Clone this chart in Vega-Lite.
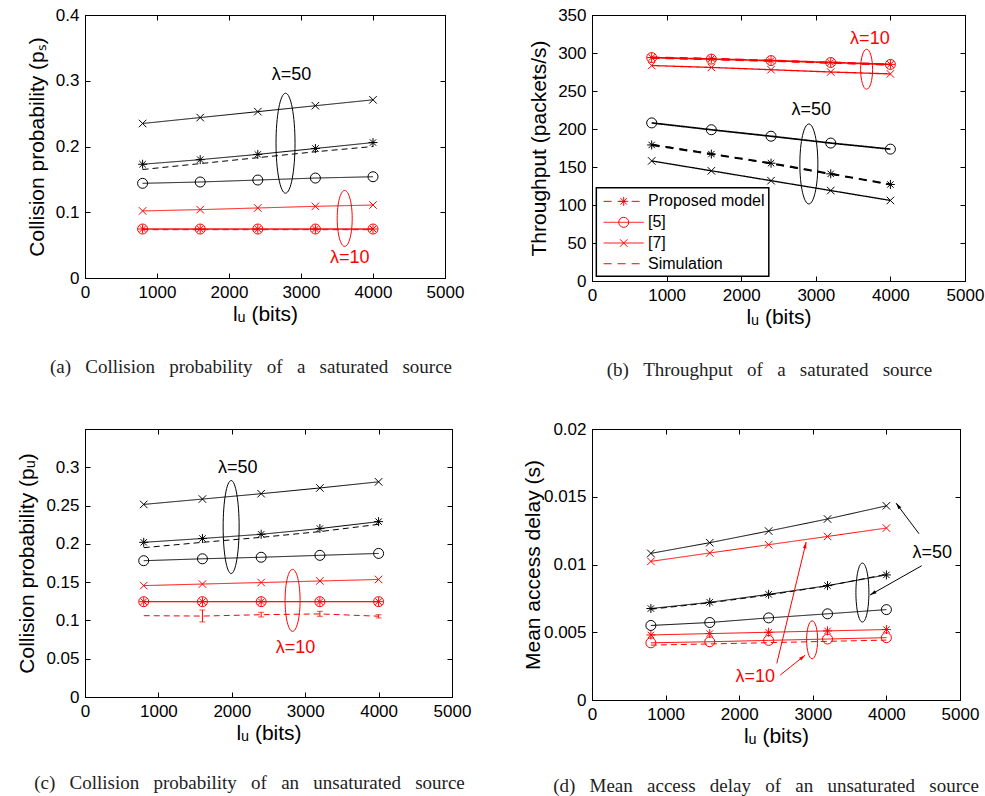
{
  "$schema": "https://vega.github.io/schema/vega-lite/v6.json",
  "padding": {"left": 16, "top": 5, "right": 5, "bottom": 5},
  "columns": 2,
  "bounds": "flush",
  "spacing": {"column": 140, "row": 148},
  "resolve": {"scale": {"strokeDash": "independent", "strokeWidth": "independent"}},
  "config": {
    "font": "Liberation Sans",
    "view": {"stroke": "#000", "strokeWidth": 1},
    "axis": {"grid": false, "domainColor": "#000", "tickColor": "#000", "labelColor": "#000", "titleColor": "#000", "labelFont": "Liberation Sans", "titleFont": "Liberation Sans", "labelFontSize": 17, "titleFontSize": 21, "titleFontWeight": "normal", "labelFlush": false, "labelOverlap": false, "tickSize": -5, "labelPadding": 11, "titlePadding": 3},
    "title": {"font": "Liberation Serif", "fontSize": 19, "fontWeight": "normal", "color": "#222"}
  },
  "datasets": {
    "a": [
      {"x": 800, "y": 0.235, "series": "[7]", "lam": "50"}, {"x": 1600, "y": 0.244, "series": "[7]", "lam": "50"}, {"x": 2400, "y": 0.253, "series": "[7]", "lam": "50"}, {"x": 3200, "y": 0.262, "series": "[7]", "lam": "50"}, {"x": 4000, "y": 0.271, "series": "[7]", "lam": "50"},
      {"x": 800, "y": 0.173, "series": "Proposed model", "lam": "50"}, {"x": 1600, "y": 0.18, "series": "Proposed model", "lam": "50"}, {"x": 2400, "y": 0.188, "series": "Proposed model", "lam": "50"}, {"x": 3200, "y": 0.197, "series": "Proposed model", "lam": "50"}, {"x": 4000, "y": 0.206, "series": "Proposed model", "lam": "50"},
      {"x": 800, "y": 0.165, "series": "Simulation", "lam": "50"}, {"x": 1600, "y": 0.174, "series": "Simulation", "lam": "50"}, {"x": 2400, "y": 0.183, "series": "Simulation", "lam": "50"}, {"x": 3200, "y": 0.192, "series": "Simulation", "lam": "50"}, {"x": 4000, "y": 0.2, "series": "Simulation", "lam": "50"},
      {"x": 800, "y": 0.144, "series": "[5]", "lam": "50"}, {"x": 1600, "y": 0.146, "series": "[5]", "lam": "50"}, {"x": 2400, "y": 0.149, "series": "[5]", "lam": "50"}, {"x": 3200, "y": 0.152, "series": "[5]", "lam": "50"}, {"x": 4000, "y": 0.154, "series": "[5]", "lam": "50"},
      {"x": 800, "y": 0.102, "series": "[7]", "lam": "10"}, {"x": 1600, "y": 0.104, "series": "[7]", "lam": "10"}, {"x": 2400, "y": 0.1065, "series": "[7]", "lam": "10"}, {"x": 3200, "y": 0.109, "series": "[7]", "lam": "10"}, {"x": 4000, "y": 0.111, "series": "[7]", "lam": "10"},
      {"x": 800, "y": 0.0745, "series": "Proposed model", "lam": "10"}, {"x": 1600, "y": 0.0745, "series": "Proposed model", "lam": "10"}, {"x": 2400, "y": 0.0745, "series": "Proposed model", "lam": "10"}, {"x": 3200, "y": 0.0745, "series": "Proposed model", "lam": "10"}, {"x": 4000, "y": 0.0745, "series": "Proposed model", "lam": "10"},
      {"x": 800, "y": 0.0745, "series": "[5]", "lam": "10"}, {"x": 1600, "y": 0.0745, "series": "[5]", "lam": "10"}, {"x": 2400, "y": 0.0745, "series": "[5]", "lam": "10"}, {"x": 3200, "y": 0.0745, "series": "[5]", "lam": "10"}, {"x": 4000, "y": 0.0745, "series": "[5]", "lam": "10"},
      {"x": 800, "y": 0.0735, "series": "Simulation", "lam": "10"}, {"x": 1600, "y": 0.0735, "series": "Simulation", "lam": "10"}, {"x": 2400, "y": 0.0735, "series": "Simulation", "lam": "10"}, {"x": 3200, "y": 0.0735, "series": "Simulation", "lam": "10"}, {"x": 4000, "y": 0.0735, "series": "Simulation", "lam": "10"}
    ],
    "b": [
      {"x": 800, "y": 294, "series": "Proposed model", "lam": "10"}, {"x": 1600, "y": 292.5, "series": "Proposed model", "lam": "10"}, {"x": 2400, "y": 290, "series": "Proposed model", "lam": "10"}, {"x": 3200, "y": 287.5, "series": "Proposed model", "lam": "10"}, {"x": 4000, "y": 285, "series": "Proposed model", "lam": "10"},
      {"x": 800, "y": 294, "series": "[5]", "lam": "10"}, {"x": 1600, "y": 292, "series": "[5]", "lam": "10"}, {"x": 2400, "y": 290, "series": "[5]", "lam": "10"}, {"x": 3200, "y": 287.5, "series": "[5]", "lam": "10"}, {"x": 4000, "y": 285, "series": "[5]", "lam": "10"},
      {"x": 800, "y": 293, "series": "Simulation", "lam": "10"}, {"x": 1600, "y": 291, "series": "Simulation", "lam": "10"}, {"x": 2400, "y": 289, "series": "Simulation", "lam": "10"}, {"x": 3200, "y": 286.5, "series": "Simulation", "lam": "10"}, {"x": 4000, "y": 284, "series": "Simulation", "lam": "10"},
      {"x": 800, "y": 283.5, "series": "[7]", "lam": "10"}, {"x": 1600, "y": 281, "series": "[7]", "lam": "10"}, {"x": 2400, "y": 278, "series": "[7]", "lam": "10"}, {"x": 3200, "y": 275, "series": "[7]", "lam": "10"}, {"x": 4000, "y": 272.5, "series": "[7]", "lam": "10"},
      {"x": 800, "y": 208, "series": "[5]", "lam": "50"}, {"x": 1600, "y": 199, "series": "[5]", "lam": "50"}, {"x": 2400, "y": 190.5, "series": "[5]", "lam": "50"}, {"x": 3200, "y": 181.5, "series": "[5]", "lam": "50"}, {"x": 4000, "y": 173.5, "series": "[5]", "lam": "50"},
      {"x": 800, "y": 179, "series": "Proposed model", "lam": "50"}, {"x": 1600, "y": 167, "series": "Proposed model", "lam": "50"}, {"x": 2400, "y": 155, "series": "Proposed model", "lam": "50"}, {"x": 3200, "y": 141, "series": "Proposed model", "lam": "50"}, {"x": 4000, "y": 127, "series": "Proposed model", "lam": "50"},
      {"x": 800, "y": 180, "series": "Simulation", "lam": "50"}, {"x": 1600, "y": 167.5, "series": "Simulation", "lam": "50"}, {"x": 2400, "y": 154, "series": "Simulation", "lam": "50"}, {"x": 3200, "y": 140.5, "series": "Simulation", "lam": "50"}, {"x": 4000, "y": 127.5, "series": "Simulation", "lam": "50"},
      {"x": 800, "y": 158, "series": "[7]", "lam": "50"}, {"x": 1600, "y": 145, "series": "[7]", "lam": "50"}, {"x": 2400, "y": 132, "series": "[7]", "lam": "50"}, {"x": 3200, "y": 119, "series": "[7]", "lam": "50"}, {"x": 4000, "y": 106, "series": "[7]", "lam": "50"}
    ],
    "c": [
      {"x": 800, "y": 0.2515, "series": "[7]", "lam": "50"}, {"x": 1600, "y": 0.2585, "series": "[7]", "lam": "50"}, {"x": 2400, "y": 0.2655, "series": "[7]", "lam": "50"}, {"x": 3200, "y": 0.273, "series": "[7]", "lam": "50"}, {"x": 4000, "y": 0.281, "series": "[7]", "lam": "50"},
      {"x": 800, "y": 0.202, "series": "Proposed model", "lam": "50"}, {"x": 1600, "y": 0.207, "series": "Proposed model", "lam": "50"}, {"x": 2400, "y": 0.2125, "series": "Proposed model", "lam": "50"}, {"x": 3200, "y": 0.22, "series": "Proposed model", "lam": "50"}, {"x": 4000, "y": 0.229, "series": "Proposed model", "lam": "50"},
      {"x": 800, "y": 0.195, "series": "Simulation", "lam": "50"}, {"x": 1600, "y": 0.202, "series": "Simulation", "lam": "50"}, {"x": 2400, "y": 0.2085, "series": "Simulation", "lam": "50"}, {"x": 3200, "y": 0.216, "series": "Simulation", "lam": "50"}, {"x": 4000, "y": 0.2255, "series": "Simulation", "lam": "50"},
      {"x": 800, "y": 0.178, "series": "[5]", "lam": "50"}, {"x": 1600, "y": 0.1805, "series": "[5]", "lam": "50"}, {"x": 2400, "y": 0.1825, "series": "[5]", "lam": "50"}, {"x": 3200, "y": 0.185, "series": "[5]", "lam": "50"}, {"x": 4000, "y": 0.1875, "series": "[5]", "lam": "50"},
      {"x": 800, "y": 0.1455, "series": "[7]", "lam": "10"}, {"x": 1600, "y": 0.1475, "series": "[7]", "lam": "10"}, {"x": 2400, "y": 0.1495, "series": "[7]", "lam": "10"}, {"x": 3200, "y": 0.1515, "series": "[7]", "lam": "10"}, {"x": 4000, "y": 0.1535, "series": "[7]", "lam": "10"},
      {"x": 800, "y": 0.1245, "series": "Proposed model", "lam": "10"}, {"x": 1600, "y": 0.1245, "series": "Proposed model", "lam": "10"}, {"x": 2400, "y": 0.1245, "series": "Proposed model", "lam": "10"}, {"x": 3200, "y": 0.1245, "series": "Proposed model", "lam": "10"}, {"x": 4000, "y": 0.1245, "series": "Proposed model", "lam": "10"},
      {"x": 800, "y": 0.1245, "series": "[5]", "lam": "10"}, {"x": 1600, "y": 0.1245, "series": "[5]", "lam": "10"}, {"x": 2400, "y": 0.1245, "series": "[5]", "lam": "10"}, {"x": 3200, "y": 0.1245, "series": "[5]", "lam": "10"}, {"x": 4000, "y": 0.1245, "series": "[5]", "lam": "10"},
      {"x": 800, "y": 0.1062, "series": "Simulation", "lam": "10"}, {"x": 1600, "y": 0.1057, "lo": 0.098, "hi": 0.1136, "series": "Simulation", "lam": "10"}, {"x": 2400, "y": 0.1075, "lo": 0.1045, "hi": 0.1106, "series": "Simulation", "lam": "10"}, {"x": 3200, "y": 0.1085, "lo": 0.1054, "hi": 0.1119, "series": "Simulation", "lam": "10"}, {"x": 4000, "y": 0.1055, "lo": 0.1032, "hi": 0.1075, "series": "Simulation", "lam": "10"}
    ],
    "d": [
      {"x": 800, "y": 0.01082, "series": "[7]", "lam": "50"}, {"x": 1600, "y": 0.01161, "series": "[7]", "lam": "50"}, {"x": 2400, "y": 0.01247, "series": "[7]", "lam": "50"}, {"x": 3200, "y": 0.01336, "series": "[7]", "lam": "50"}, {"x": 4000, "y": 0.01433, "series": "[7]", "lam": "50"},
      {"x": 800, "y": 0.01023, "series": "[7]", "lam": "10"}, {"x": 1600, "y": 0.01085, "series": "[7]", "lam": "10"}, {"x": 2400, "y": 0.01146, "series": "[7]", "lam": "10"}, {"x": 3200, "y": 0.01207, "series": "[7]", "lam": "10"}, {"x": 4000, "y": 0.01269, "series": "[7]", "lam": "10"},
      {"x": 800, "y": 0.00675, "series": "Proposed model", "lam": "50"}, {"x": 1600, "y": 0.00721, "series": "Proposed model", "lam": "50"}, {"x": 2400, "y": 0.0078, "series": "Proposed model", "lam": "50"}, {"x": 3200, "y": 0.00844, "series": "Proposed model", "lam": "50"}, {"x": 4000, "y": 0.00923, "series": "Proposed model", "lam": "50"},
      {"x": 800, "y": 0.0067, "series": "Simulation", "lam": "50"}, {"x": 1600, "y": 0.00717, "series": "Simulation", "lam": "50"}, {"x": 2400, "y": 0.00775, "series": "Simulation", "lam": "50"}, {"x": 3200, "y": 0.00842, "series": "Simulation", "lam": "50"}, {"x": 4000, "y": 0.00928, "series": "Simulation", "lam": "50"},
      {"x": 800, "y": 0.0055, "series": "[5]", "lam": "50"}, {"x": 1600, "y": 0.00572, "series": "[5]", "lam": "50"}, {"x": 2400, "y": 0.00606, "series": "[5]", "lam": "50"}, {"x": 3200, "y": 0.00636, "series": "[5]", "lam": "50"}, {"x": 4000, "y": 0.00667, "series": "[5]", "lam": "50"},
      {"x": 800, "y": 0.0048, "series": "Proposed model", "lam": "10"}, {"x": 1600, "y": 0.0049, "series": "Proposed model", "lam": "10"}, {"x": 2400, "y": 0.005, "series": "Proposed model", "lam": "10"}, {"x": 3200, "y": 0.0051, "series": "Proposed model", "lam": "10"}, {"x": 4000, "y": 0.0052, "series": "Proposed model", "lam": "10"},
      {"x": 800, "y": 0.00422, "series": "[5]", "lam": "10"}, {"x": 1600, "y": 0.0043, "series": "[5]", "lam": "10"}, {"x": 2400, "y": 0.0044, "series": "[5]", "lam": "10"}, {"x": 3200, "y": 0.0045, "series": "[5]", "lam": "10"}, {"x": 4000, "y": 0.0046, "series": "[5]", "lam": "10"},
      {"x": 800, "y": 0.00405, "series": "Simulation", "lam": "10"}, {"x": 1600, "y": 0.00414, "series": "Simulation", "lam": "10"}, {"x": 2400, "y": 0.00423, "series": "Simulation", "lam": "10"}, {"x": 3200, "y": 0.00433, "series": "Simulation", "lam": "10"}, {"x": 4000, "y": 0.00442, "series": "Simulation", "lam": "10"}
    ],
    "ann": [
      {"p": "a", "id": "t50", "x": 2869, "y": 0.308, "label": "λ=50", "lam": "50"},
      {"p": "a", "id": "t10", "x": 3677, "y": 0.03, "label": "λ=10", "lam": "10"},
      {"p": "a", "id": "e50", "x": 2785, "y": 0.205, "lam": "50"},
      {"p": "a", "id": "e10", "x": 3607, "y": 0.0906, "lam": "10"},
      {"p": "b", "id": "t10", "x": 3725, "y": 318, "label": "λ=10", "lam": "10"},
      {"p": "b", "id": "t50", "x": 2938, "y": 224.7, "label": "λ=50", "lam": "50"},
      {"p": "b", "id": "e10", "x": 3681, "y": 278.6, "lam": "10"},
      {"p": "b", "id": "e50", "x": 2907, "y": 154, "lam": "50"},
      {"p": "c", "id": "t50", "x": 2081, "y": 0.2997, "label": "λ=50", "lam": "50"},
      {"p": "c", "id": "t10", "x": 2869, "y": 0.0646, "label": "λ=10", "lam": "10"},
      {"p": "c", "id": "e50", "x": 1991, "y": 0.222, "lam": "50"},
      {"p": "c", "id": "e10", "x": 2828, "y": 0.1262, "lam": "10"},
      {"p": "d", "id": "t50", "x": 4624, "y": 0.01085, "label": "λ=50", "lam": "50"},
      {"p": "d", "id": "t10", "x": 2217, "y": 0.00172, "label": "λ=10", "lam": "10"},
      {"p": "d", "id": "e50", "x": 3674, "y": 0.00793, "lam": "50"},
      {"p": "d", "id": "e10", "x": 2991, "y": 0.00444, "lam": "10"},
      {"p": "d", "id": "a1", "x": 4443, "y": 0.01227, "x2": 4131, "y2": 0.01453, "lam": "50"},
      {"p": "d", "id": "a2", "x": 4480, "y": 0.00991, "x2": 3778, "y2": 0.00775, "lam": "50"},
      {"p": "d", "id": "a3", "x": 2511, "y": 0.0027, "x2": 2910, "y2": 0.01166, "lam": "10"},
      {"p": "d", "id": "a4", "x": 2557, "y": 0.00184, "x2": 2896, "y2": 0.00331, "lam": "10"}
    ],
    "legb": [
      {"series": "Proposed model", "y": 104.8},
      {"series": "[5]", "y": 77.2},
      {"series": "[7]", "y": 50},
      {"series": "Simulation", "y": 22.7}
    ]
  },
  "concat": [
    {
      "width": 360, "height": 263,
      "title": {"text": "(a) \u2002Collision \u2002probability \u2002of \u2002a \u2002saturated \u2002source", "orient": "bottom", "anchor": "middle", "offset": 34, "dx": -14},
      "resolve": {"axis": {"x": "independent", "y": "independent"}},
      "layer": [
        {"data": {"name": "a"}, "mark": {"type": "line", "strokeWidth": 1},
         "encoding": {
           "x": {"field": "x", "type": "quantitative", "scale": {"domain": [0, 5000]}, "axis": {"values": [0, 1000, 2000, 3000, 4000, 5000], "format": "d", "title": "lᵤ  (bits)"}},
           "y": {"field": "y", "type": "quantitative", "scale": {"domain": [0, 0.4]}, "axis": {"values": [0, 0.1, 0.2, 0.3, 0.4], "format": "~g", "title": "Collision probability (pₛ)", "titlePadding": 8}},
           "color": {"field": "lam", "type": "nominal", "scale": {"domain": ["10", "50"], "range": ["#ff0000", "#000000"]}, "legend": null},
           "strokeDash": {"field": "series", "type": "nominal", "scale": {"domain": ["Proposed model", "[5]", "[7]", "Simulation"], "range": [[1, 0], [1, 0], [1, 0], [6, 4]]}, "legend": null}
         }},
        {"data": {"name": "a"}, "transform": [{"filter": "datum.series !== 'Simulation'"}], "mark": {"type": "point", "filled": false, "strokeWidth": 1, "opacity": 1, "size": 100},
         "encoding": {
           "x": {"field": "x", "type": "quantitative", "axis": {"orient": "top", "values": [0, 1000, 2000, 3000, 4000, 5000], "labels": false, "title": null}},
           "y": {"field": "y", "type": "quantitative", "axis": {"orient": "right", "values": [0, 0.1, 0.2, 0.3, 0.4], "labels": false, "title": null}},
           "color": {"field": "lam", "type": "nominal", "legend": null},
           "shape": {"field": "series", "type": "nominal", "scale": {"domain": ["Proposed model", "[5]", "[7]"], "range": ["M0,-0.9V0.9M-0.9,0H0.9M-0.64,-0.64L0.64,0.64M-0.64,0.64L0.64,-0.64", "circle", "M-0.75,-0.75L0.75,0.75M-0.75,0.75L0.75,-0.75"]}, "legend": null}
         }},
        {"data": {"name": "ann"}, "transform": [{"filter": "datum.p === 'a' && datum.label"}], "mark": {"type": "text", "fontSize": 18, "align": "center", "baseline": "middle"},
         "encoding": {"x": {"field": "x", "type": "quantitative", "axis": null}, "y": {"field": "y", "type": "quantitative", "axis": null}, "text": {"field": "label"}, "color": {"field": "lam", "type": "nominal", "legend": null}}},
        {"data": {"name": "ann"}, "transform": [{"filter": "datum.p === 'a' && datum.id === 'e50'"}], "mark": {"type": "point", "filled": false, "strokeWidth": 1, "opacity": 1, "size": 10000, "shape": "M0,-1C0.105,-1 0.19,-0.552 0.19,0C0.19,0.552 0.105,1 0,1C-0.105,1 -0.19,0.552 -0.19,0C-0.19,-0.552 -0.105,-1 0,-1Z"},
         "encoding": {"x": {"field": "x", "type": "quantitative", "axis": null}, "y": {"field": "y", "type": "quantitative", "axis": null}, "color": {"field": "lam", "type": "nominal", "legend": null}}},
        {"data": {"name": "ann"}, "transform": [{"filter": "datum.p === 'a' && datum.id === 'e10'"}], "mark": {"type": "point", "filled": false, "strokeWidth": 1, "opacity": 1, "size": 3136, "shape": "M0,-1C0.148,-1 0.268,-0.552 0.268,0C0.268,0.552 0.148,1 0,1C-0.148,1 -0.268,0.552 -0.268,0C-0.268,-0.552 -0.148,-1 0,-1Z"},
         "encoding": {"x": {"field": "x", "type": "quantitative", "axis": null}, "y": {"field": "y", "type": "quantitative", "axis": null}, "color": {"field": "lam", "type": "nominal", "legend": null}}}
      ]
    },
    {
      "width": 373, "height": 266,
      "title": {"text": "(b) \u2002Throughput \u2002of \u2002a \u2002saturated \u2002source", "orient": "bottom", "anchor": "middle", "offset": 34, "dx": -9},
      "resolve": {"axis": {"x": "independent", "y": "independent"}},
      "layer": [
        {"data": {"name": "b"}, "mark": {"type": "line"},
         "encoding": {
           "x": {"field": "x", "type": "quantitative", "scale": {"domain": [0, 5000]}, "axis": {"values": [0, 1000, 2000, 3000, 4000, 5000], "format": "d", "title": "lᵤ  (bits)"}},
           "y": {"field": "y", "type": "quantitative", "scale": {"domain": [0, 350]}, "axis": {"values": [0, 50, 100, 150, 200, 250, 300, 350], "format": "d", "title": "Throughput (packets/s)", "titlePadding": 8}},
           "color": {"field": "lam", "type": "nominal", "scale": {"domain": ["10", "50"], "range": ["#ff0000", "#000000"]}, "legend": null},
           "strokeDash": {"field": "series", "type": "nominal", "scale": {"domain": ["Proposed model", "[5]", "[7]", "Simulation"], "range": [[8, 6], [1, 0], [1, 0], [8, 6]]}, "legend": null},
           "strokeWidth": {"field": "series", "type": "nominal", "scale": {"domain": ["Proposed model", "[5]", "[7]", "Simulation"], "range": [2, 1, 1, 1]}, "legend": null}
         }},
        {"data": {"name": "b"}, "transform": [{"filter": "datum.series !== 'Simulation'"}], "mark": {"type": "point", "filled": false, "strokeWidth": 1, "opacity": 1, "size": 100},
         "encoding": {
           "x": {"field": "x", "type": "quantitative", "axis": {"orient": "top", "values": [0, 1000, 2000, 3000, 4000, 5000], "labels": false, "title": null}},
           "y": {"field": "y", "type": "quantitative", "axis": {"orient": "right", "values": [0, 50, 100, 150, 200, 250, 300, 350], "labels": false, "title": null}},
           "color": {"field": "lam", "type": "nominal", "legend": null},
           "shape": {"field": "series", "type": "nominal", "scale": {"domain": ["Proposed model", "[5]", "[7]"], "range": ["M0,-0.9V0.9M-0.9,0H0.9M-0.64,-0.64L0.64,0.64M-0.64,0.64L0.64,-0.64", "circle", "M-0.75,-0.75L0.75,0.75M-0.75,0.75L0.75,-0.75"]}, "legend": null}
         }},
        {"data": {"name": "ann"}, "transform": [{"filter": "datum.p === 'b' && datum.label"}], "mark": {"type": "text", "fontSize": 18, "align": "center", "baseline": "middle"},
         "encoding": {"x": {"field": "x", "type": "quantitative", "axis": null}, "y": {"field": "y", "type": "quantitative", "axis": null}, "text": {"field": "label"}, "color": {"field": "lam", "type": "nominal", "legend": null}}},
        {"data": {"name": "ann"}, "transform": [{"filter": "datum.p === 'b' && datum.id === 'e50'"}], "mark": {"type": "point", "filled": false, "strokeWidth": 1, "opacity": 1, "size": 6400, "shape": "M0,-1C0.124,-1 0.225,-0.552 0.225,0C0.225,0.552 0.124,1 0,1C-0.124,1 -0.225,0.552 -0.225,0C-0.225,-0.552 -0.124,-1 0,-1Z"},
         "encoding": {"x": {"field": "x", "type": "quantitative", "axis": null}, "y": {"field": "y", "type": "quantitative", "axis": null}, "color": {"field": "lam", "type": "nominal", "legend": null}}},
        {"data": {"name": "ann"}, "transform": [{"filter": "datum.p === 'b' && datum.id === 'e10'"}], "mark": {"type": "point", "filled": false, "strokeWidth": 1, "opacity": 1, "size": 1600, "shape": "M0,-1C0.166,-1 0.3,-0.552 0.3,0C0.3,0.552 0.166,1 0,1C-0.166,1 -0.3,0.552 -0.3,0C-0.3,-0.552 -0.166,-1 0,-1Z"},
         "encoding": {"x": {"field": "x", "type": "quantitative", "axis": null}, "y": {"field": "y", "type": "quantitative", "axis": null}, "color": {"field": "lam", "type": "nominal", "legend": null}}},
        {"data": {"name": "legb"}, "transform": [{"filter": "datum.series === 'Proposed model'"}], "mark": {"type": "rect", "fill": "#ffffff", "stroke": "#000000", "strokeWidth": 1.5},
         "encoding": {"x": {"datum": 58, "type": "quantitative", "axis": null}, "x2": {"datum": 2370}, "y": {"datum": 6.2, "type": "quantitative", "axis": null}, "y2": {"datum": 122.6}}},
        {"data": {"name": "legb"}, "mark": {"type": "rule", "color": "#ff0000", "strokeWidth": 1},
         "encoding": {"x": {"datum": 156, "type": "quantitative", "axis": null}, "x2": {"datum": 693}, "y": {"field": "y", "type": "quantitative", "axis": null},
           "strokeDash": {"field": "series", "type": "nominal", "legend": null}}},
        {"data": {"name": "legb"}, "transform": [{"filter": "datum.series !== 'Simulation'"}], "mark": {"type": "point", "filled": false, "strokeWidth": 1, "opacity": 1, "size": 100, "color": "#ff0000"},
         "encoding": {"x": {"datum": 425, "type": "quantitative", "axis": null}, "y": {"field": "y", "type": "quantitative", "axis": null},
           "shape": {"field": "series", "type": "nominal", "legend": null}}},
        {"data": {"name": "legb"}, "mark": {"type": "text", "fontSize": 16, "align": "left", "baseline": "middle", "color": "#000000"},
         "encoding": {"x": {"datum": 751, "type": "quantitative", "axis": null}, "y": {"field": "y", "type": "quantitative", "axis": null}, "text": {"field": "series"}}}
      ]
    },
    {
      "width": 367, "height": 268,
      "title": {"text": "(c) \u2002Collision \u2002probability \u2002of \u2002an \u2002unsaturated \u2002source", "orient": "bottom", "anchor": "middle", "offset": 31, "dx": -19},
      "resolve": {"axis": {"x": "independent", "y": "independent"}},
      "layer": [
        {"data": {"name": "c"}, "mark": {"type": "line", "strokeWidth": 1},
         "encoding": {
           "x": {"field": "x", "type": "quantitative", "scale": {"domain": [0, 5000]}, "axis": {"values": [0, 1000, 2000, 3000, 4000, 5000], "format": "d", "title": "lᵤ  (bits)"}},
           "y": {"field": "y", "type": "quantitative", "scale": {"domain": [0, 0.35], "nice": false}, "axis": {"values": [0, 0.05, 0.1, 0.15, 0.2, 0.25, 0.3], "format": "~g", "title": "Collision probability (pᵤ)", "titlePadding": 8}},
           "color": {"field": "lam", "type": "nominal", "scale": {"domain": ["10", "50"], "range": ["#ff0000", "#000000"]}, "legend": null},
           "strokeDash": {"field": "series", "type": "nominal", "scale": {"domain": ["Proposed model", "[5]", "[7]", "Simulation"], "range": [[1, 0], [1, 0], [1, 0], [6, 4]]}, "legend": null}
         }},
        {"data": {"name": "c"}, "transform": [{"filter": "datum.series !== 'Simulation'"}], "mark": {"type": "point", "filled": false, "strokeWidth": 1, "opacity": 1, "size": 100},
         "encoding": {
           "x": {"field": "x", "type": "quantitative", "axis": {"orient": "top", "values": [0, 1000, 2000, 3000, 4000, 5000], "labels": false, "title": null}},
           "y": {"field": "y", "type": "quantitative", "axis": {"orient": "right", "values": [0, 0.05, 0.1, 0.15, 0.2, 0.25, 0.3], "labels": false, "title": null}},
           "color": {"field": "lam", "type": "nominal", "legend": null},
           "shape": {"field": "series", "type": "nominal", "scale": {"domain": ["Proposed model", "[5]", "[7]"], "range": ["M0,-0.9V0.9M-0.9,0H0.9M-0.64,-0.64L0.64,0.64M-0.64,0.64L0.64,-0.64", "circle", "M-0.75,-0.75L0.75,0.75M-0.75,0.75L0.75,-0.75"]}, "legend": null}
         }},
        {"data": {"name": "c"}, "transform": [{"filter": "isValid(datum.lo)"}], "mark": {"type": "rule", "strokeWidth": 1},
         "encoding": {"x": {"field": "x", "type": "quantitative", "axis": null}, "y": {"field": "lo", "type": "quantitative", "axis": null}, "y2": {"field": "hi"}, "color": {"field": "lam", "type": "nominal", "legend": null}}},
        {"data": {"name": "c"}, "transform": [{"filter": "isValid(datum.lo)"}], "mark": {"type": "tick", "orient": "horizontal", "size": 6, "thickness": 1},
         "encoding": {"x": {"field": "x", "type": "quantitative", "axis": null}, "y": {"field": "lo", "type": "quantitative", "axis": null}, "color": {"field": "lam", "type": "nominal", "legend": null}}},
        {"data": {"name": "c"}, "transform": [{"filter": "isValid(datum.hi)"}], "mark": {"type": "tick", "orient": "horizontal", "size": 6, "thickness": 1},
         "encoding": {"x": {"field": "x", "type": "quantitative", "axis": null}, "y": {"field": "hi", "type": "quantitative", "axis": null}, "color": {"field": "lam", "type": "nominal", "legend": null}}},
        {"data": {"name": "ann"}, "transform": [{"filter": "datum.p === 'c' && datum.label"}], "mark": {"type": "text", "fontSize": 18, "align": "center", "baseline": "middle"},
         "encoding": {"x": {"field": "x", "type": "quantitative", "axis": null}, "y": {"field": "y", "type": "quantitative", "axis": null}, "text": {"field": "label"}, "color": {"field": "lam", "type": "nominal", "legend": null}}},
        {"data": {"name": "ann"}, "transform": [{"filter": "datum.p === 'c' && datum.id === 'e50'"}], "mark": {"type": "point", "filled": false, "strokeWidth": 1, "opacity": 1, "size": 8649, "shape": "M0,-1C0.095,-1 0.172,-0.552 0.172,0C0.172,0.552 0.095,1 0,1C-0.095,1 -0.172,0.552 -0.172,0C-0.172,-0.552 -0.095,-1 0,-1Z"},
         "encoding": {"x": {"field": "x", "type": "quantitative", "axis": null}, "y": {"field": "y", "type": "quantitative", "axis": null}, "color": {"field": "lam", "type": "nominal", "legend": null}}},
        {"data": {"name": "ann"}, "transform": [{"filter": "datum.p === 'c' && datum.id === 'e10'"}], "mark": {"type": "point", "filled": false, "strokeWidth": 1, "opacity": 1, "size": 3844, "shape": "M0,-1C0.134,-1 0.242,-0.552 0.242,0C0.242,0.552 0.134,1 0,1C-0.134,1 -0.242,0.552 -0.242,0C-0.242,-0.552 -0.134,-1 0,-1Z"},
         "encoding": {"x": {"field": "x", "type": "quantitative", "axis": null}, "y": {"field": "y", "type": "quantitative", "axis": null}, "color": {"field": "lam", "type": "nominal", "legend": null}}}
      ]
    },
    {
      "width": 368, "height": 271,
      "title": {"text": "(d) \u2002Mean \u2002access \u2002delay \u2002of \u2002an \u2002unsaturated \u2002source", "orient": "bottom", "anchor": "middle", "offset": 31, "dx": -10},
      "resolve": {"axis": {"x": "independent", "y": "independent"}},
      "layer": [
        {"data": {"name": "d"}, "mark": {"type": "line", "strokeWidth": 1},
         "encoding": {
           "x": {"field": "x", "type": "quantitative", "scale": {"domain": [0, 5000]}, "axis": {"values": [0, 1000, 2000, 3000, 4000, 5000], "format": "d", "title": "lᵤ  (bits)"}},
           "y": {"field": "y", "type": "quantitative", "scale": {"domain": [0, 0.02]}, "axis": {"values": [0, 0.005, 0.01, 0.015, 0.02], "format": "~g", "title": "Mean access delay (s)", "titlePadding": 0}},
           "color": {"field": "lam", "type": "nominal", "scale": {"domain": ["10", "50"], "range": ["#ff0000", "#000000"]}, "legend": null},
           "strokeDash": {"field": "series", "type": "nominal", "scale": {"domain": ["Proposed model", "[5]", "[7]", "Simulation"], "range": [[1, 0], [1, 0], [1, 0], [6, 4]]}, "legend": null}
         }},
        {"data": {"name": "d"}, "transform": [{"filter": "datum.series !== 'Simulation'"}], "mark": {"type": "point", "filled": false, "strokeWidth": 1, "opacity": 1, "size": 100},
         "encoding": {
           "x": {"field": "x", "type": "quantitative", "axis": {"orient": "top", "values": [0, 1000, 2000, 3000, 4000, 5000], "labels": false, "title": null}},
           "y": {"field": "y", "type": "quantitative", "axis": {"orient": "right", "values": [0, 0.005, 0.01, 0.015, 0.02], "labels": false, "title": null}},
           "color": {"field": "lam", "type": "nominal", "legend": null},
           "shape": {"field": "series", "type": "nominal", "scale": {"domain": ["Proposed model", "[5]", "[7]"], "range": ["M0,-0.9V0.9M-0.9,0H0.9M-0.64,-0.64L0.64,0.64M-0.64,0.64L0.64,-0.64", "circle", "M-0.75,-0.75L0.75,0.75M-0.75,0.75L0.75,-0.75"]}, "legend": null}
         }},
        {"data": {"name": "ann"}, "transform": [{"filter": "datum.p === 'd' && datum.label"}], "mark": {"type": "text", "fontSize": 18, "align": "center", "baseline": "middle"},
         "encoding": {"x": {"field": "x", "type": "quantitative", "axis": null}, "y": {"field": "y", "type": "quantitative", "axis": null}, "text": {"field": "label"}, "color": {"field": "lam", "type": "nominal", "legend": null}}},
        {"data": {"name": "ann"}, "transform": [{"filter": "datum.p === 'd' && datum.id === 'e50'"}], "mark": {"type": "point", "filled": false, "strokeWidth": 1, "opacity": 1, "size": 3481, "shape": "M0,-1C0.122,-1 0.22,-0.552 0.22,0C0.22,0.552 0.122,1 0,1C-0.122,1 -0.22,0.552 -0.22,0C-0.22,-0.552 -0.122,-1 0,-1Z"},
         "encoding": {"x": {"field": "x", "type": "quantitative", "axis": null}, "y": {"field": "y", "type": "quantitative", "axis": null}, "color": {"field": "lam", "type": "nominal", "legend": null}}},
        {"data": {"name": "ann"}, "transform": [{"filter": "datum.p === 'd' && datum.id === 'e10'"}], "mark": {"type": "point", "filled": false, "strokeWidth": 1, "opacity": 1, "size": 1444, "shape": "M0,-1C0.16,-1 0.29,-0.552 0.29,0C0.29,0.552 0.16,1 0,1C-0.16,1 -0.29,0.552 -0.29,0C-0.29,-0.552 -0.16,-1 0,-1Z"},
         "encoding": {"x": {"field": "x", "type": "quantitative", "axis": null}, "y": {"field": "y", "type": "quantitative", "axis": null}, "color": {"field": "lam", "type": "nominal", "legend": null}}},
        {"data": {"name": "ann"}, "transform": [{"filter": "datum.p === 'd' && isValid(datum.x2)"}], "mark": {"type": "rule", "strokeWidth": 1},
         "encoding": {"x": {"field": "x", "type": "quantitative", "axis": null}, "y": {"field": "y", "type": "quantitative", "axis": null}, "x2": {"field": "x2"}, "y2": {"field": "y2"}, "color": {"field": "lam", "type": "nominal", "legend": null}}},
        {"data": {"name": "ann"}, "transform": [{"filter": "datum.p === 'd' && datum.id === 'a1'"}], "mark": {"type": "point", "filled": true, "opacity": 1, "size": 64, "angle": 323, "shape": "M0,0L-0.45,1.6L0.45,1.6Z"},
         "encoding": {"x": {"field": "x2", "type": "quantitative", "axis": null}, "y": {"field": "y2", "type": "quantitative", "axis": null}, "color": {"field": "lam", "type": "nominal", "legend": null}}},
        {"data": {"name": "ann"}, "transform": [{"filter": "datum.p === 'd' && datum.id === 'a2'"}], "mark": {"type": "point", "filled": true, "opacity": 1, "size": 64, "angle": 240, "shape": "M0,0L-0.45,1.6L0.45,1.6Z"},
         "encoding": {"x": {"field": "x2", "type": "quantitative", "axis": null}, "y": {"field": "y2", "type": "quantitative", "axis": null}, "color": {"field": "lam", "type": "nominal", "legend": null}}},
        {"data": {"name": "ann"}, "transform": [{"filter": "datum.p === 'd' && datum.id === 'a3'"}], "mark": {"type": "point", "filled": true, "opacity": 1, "size": 64, "angle": 14, "shape": "M0,0L-0.45,1.6L0.45,1.6Z"},
         "encoding": {"x": {"field": "x2", "type": "quantitative", "axis": null}, "y": {"field": "y2", "type": "quantitative", "axis": null}, "color": {"field": "lam", "type": "nominal", "legend": null}}},
        {"data": {"name": "ann"}, "transform": [{"filter": "datum.p === 'd' && datum.id === 'a4'"}], "mark": {"type": "point", "filled": true, "opacity": 1, "size": 64, "angle": 51, "shape": "M0,0L-0.45,1.6L0.45,1.6Z"},
         "encoding": {"x": {"field": "x2", "type": "quantitative", "axis": null}, "y": {"field": "y2", "type": "quantitative", "axis": null}, "color": {"field": "lam", "type": "nominal", "legend": null}}}
      ]
    }
  ]
}
